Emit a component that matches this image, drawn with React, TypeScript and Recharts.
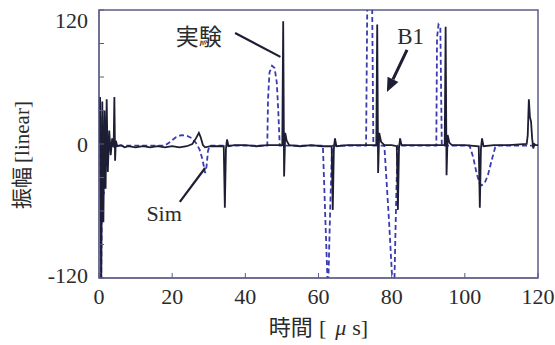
import React from 'react';
import { LineChart, Line, XAxis, YAxis, ReferenceArea, ReferenceLine, ReferenceDot } from 'recharts';

// tick values
const timeTicks = [0, 20, 40, 60, 80, 100, 120];
const ampTicks = [-120, -90, -60, -30, 0, 30, 60, 90, 120];
const ampLabels = [-120, 0, 120];

// measured trace (実験): [time µs, amplitude]
const experiment: [number, number][] = [
  [0, 0], [0.3, 42], [0.6, -130], [0.9, 38], [1.2, -70], [1.5, 30], [1.8, -40], [2.1, 40],
  [2.4, -25], [2.8, 12], [3.2, -10], [3.6, 5], [4.0, -3], [4.2, 42], [4.4, -15], [4.6, 3],
  [5.0, -2], [6, -1], [7, -3], [8, -2], [10, -3], [12, -2], [14, -3], [16, -2], [18, -3],
  [20, -2], [22, -3], [24, -2], [25.5, 0], [26.5, 5], [27.3, 10], [27.8, 6], [28.4, -1],
  [29, -3], [30.5, -2], [32, -2], [34.1, -2], [34.4, -57], [34.7, -4], [35.0, 4], [35.4, -2],
  [37, -1], [40, -1], [43, -2], [46, -1], [50.1, -1], [50.35, 110], [50.6, -29], [50.9, 10],
  [51.3, 3], [52, -1], [55, -2], [58, -1], [61, -2], [63.6, -2], [63.9, -59], [64.2, -4],
  [64.5, 5], [64.9, -2], [68, -1], [71, -1], [74, -1], [75.8, -1], [76.05, 107], [76.3, -26],
  [76.6, 10], [77.1, 2], [78, -1], [80, -1], [81.4, -2], [81.7, -59], [82.0, -4], [82.3, 5],
  [82.7, -1], [85, -1], [88, -1], [91, -1], [94.5, -1], [94.75, 105], [95.0, -28], [95.3, 8],
  [95.8, 1], [96.5, -1], [100, -1], [103.8, -2], [104.1, -57], [104.4, -4], [104.7, 5],
  [105.1, -2], [108, -1], [112, -1], [116.9, 0], [117.2, 8], [117.5, 40], [117.8, 24],
  [118.1, 20], [118.4, 5], [118.7, -4], [119.0, 0], [119.4, -1], [120, -1],
];

// simulated trace (Sim): [time µs, amplitude]
const simulation: [number, number][] = [
  [0, 0], [0.3, 35], [0.6, -130], [0.9, 25], [1.3, -45], [1.7, 15], [2.2, -8], [2.8, 3],
  [3.5, -1.5], [18, -1.5], [19.5, 2], [21, 6], [22.5, 8], [24, 7.5], [25.5, 5], [26.5, 1],
  [27.5, -5], [28.3, -14], [29.0, -26], [29.4, -20], [29.8, -6], [30.3, -1.5], [46.0, -1.5],
  [46.2, 40], [46.6, 64], [47.3, 70], [48.0, 68], [48.6, 55], [49.0, 30], [49.4, -1.5],
  [61.2, -1.5], [61.9, -70], [62.6, -135], [63.1, -70], [63.7, -1.5], [73.0, -1.5], [73.4, 150],
  [74.6, 150], [75.0, -1.5], [78.0, -1.5], [79.3, -70], [80.3, -130], [80.7, -130], [81.3, -40],
  [81.7, -1.5], [92.2, -1.5], [92.4, 95], [92.8, 107], [93.3, 105], [93.7, -1.5], [101.3, -1.5],
  [102.3, -12], [103.2, -26], [104.0, -35], [104.6, -37], [105.4, -35], [106.3, -28],
  [107.3, -15], [108.3, -3], [108.8, -1.5], [120, -1.5],
];

const expData = experiment.map(([t, v]) => ({ t, v }));
const simData = simulation.map(([t, v]) => ({ t, v }));

const INK = '#1d1d33';
const SIM = '#3a3ab2';
const FRAME = '#5c5c88';
const TEXT = '#2b2b2b';
const SERIF = '"Liberation Serif", "DejaVu Serif", serif';
const GOTHIC = '"Noto Sans CJK JP", "Noto Sans", sans-serif';

function AmpTick({ x, y, payload }: any) {
  if (!ampLabels.includes(payload.value)) return <g />;
  const shift = payload.value === 120 ? 10 : payload.value === -120 ? -3 : 0;
  return (
    <text x={x} y={y + shift} dy="0.355em" textAnchor="end" fontFamily={SERIF} fontSize={22} fill={TEXT}>
      {payload.value}
    </text>
  );
}

function XLabel({ viewBox }: any) {
  const cx = viewBox.x + viewBox.width / 2;
  const cy = viewBox.y + 49;
  return (
    <text x={cx} y={cy} dy="0.35em" textAnchor="middle" fontSize={22} fill={TEXT}>
      <tspan fontFamily={GOTHIC}>時間</tspan>
      <tspan fontFamily={SERIF} dx={6}>[</tspan>
      <tspan fontFamily={SERIF} fontStyle="italic" dx={9}>μ</tspan>
      <tspan fontFamily={SERIF} dx={6}>s]</tspan>
    </text>
  );
}

function YLabel({ viewBox }: any) {
  const cx = viewBox.x + 22;
  const cy = viewBox.y + viewBox.height / 2 + 11;
  return (
    <text x={cx} y={cy} dy="0.35em" textAnchor="middle" fontSize={21} fill={TEXT} transform={`rotate(-90 ${cx} ${cy})`}>
      <tspan fontFamily={GOTHIC}>振幅</tspan>
      <tspan fontFamily={SERIF} dx={4}>[linear]</tspan>
    </text>
  );
}

function Arrow({ x1, y1, x2, y2 }: any) {
  const ang = Math.atan2(y2 - y1, x2 - x1);
  const len = 14;
  const w = 6;
  const bx = x2 - len * Math.cos(ang);
  const by = y2 - len * Math.sin(ang);
  const px = -Math.sin(ang) * w;
  const py = Math.cos(ang) * w;
  return (
    <g>
      <line x1={x1} y1={y1} x2={bx} y2={by} stroke={INK} strokeWidth={3} />
      <polygon points={`${x2},${y2} ${bx + px},${by + py} ${bx - px},${by - py}`} fill={INK} />
    </g>
  );
}

const note = (text: string, family: string, size: number) => ({ cx, cy }: any) => (
  <text x={cx} y={cy} dy="0.35em" textAnchor="middle" fontFamily={family} fontSize={size} fill={TEXT}>
    {text}
  </text>
);

export default function App() {
  return (
    <div style={{ position: 'fixed', left: 0, top: 0, width: 555, height: 345, background: '#fff' }}>
      <LineChart width={555} height={345} margin={{ top: 10, right: 17, left: 0, bottom: 0 }}>
        <XAxis
          dataKey="t"
          type="number"
          domain={[0, 120]}
          ticks={timeTicks}
          allowDataOverflow
          height={67}
          tickSize={-5}
          tickMargin={15}
          stroke={FRAME}
          tick={{ fontFamily: SERIF, fontSize: 22, fill: TEXT }}
          label={{ content: (p: any) => <XLabel {...p} /> }}
        />
        <YAxis
          type="number"
          domain={[-120, 120]}
          ticks={ampTicks}
          allowDataOverflow
          width={99}
          tickSize={-5}
          tickMargin={16}
          stroke={FRAME}
          tick={<AmpTick />}
          label={{ content: (p: any) => <YLabel {...p} /> }}
        />
        <ReferenceArea x1={0} x2={120} y1={-120} y2={120} fill="none" stroke={FRAME} strokeWidth={1.5} fillOpacity={0} />
        <Line data={simData} dataKey="v" type="linear" stroke={SIM} strokeWidth={1.8} strokeDasharray="5 3" dot={false} isAnimationActive={false} />
        <Line data={expData} dataKey="v" type="linear" stroke={INK} strokeWidth={1.8} dot={false} isAnimationActive={false} />
        <ReferenceLine segment={[{ x: 37.2, y: 99.4 }, { x: 49.6, y: 78 }]} stroke={INK} strokeWidth={2.2} ifOverflow="visible" />
        <ReferenceLine segment={[{ x: 22.1, y: -51.9 }, { x: 29.0, y: -21.5 }]} stroke={INK} strokeWidth={2.2} ifOverflow="visible" />
        <ReferenceLine segment={[{ x: 84.2, y: 84.2 }, { x: 78.7, y: 46.6 }]} ifOverflow="visible" shape={(p: any) => <Arrow {...p} />} />
        <ReferenceDot x={27.3} y={95.8} r={0} ifOverflow="visible" shape={note('実験', GOTHIC, 23)} />
        <ReferenceDot x={85.2} y={96.7} r={0} ifOverflow="visible" shape={note('B1', SERIF, 23)} />
        <ReferenceDot x={17.8} y={-61.8} r={0} ifOverflow="visible" shape={note('Sim', SERIF, 22)} />
      </LineChart>
    </div>
  );
}
